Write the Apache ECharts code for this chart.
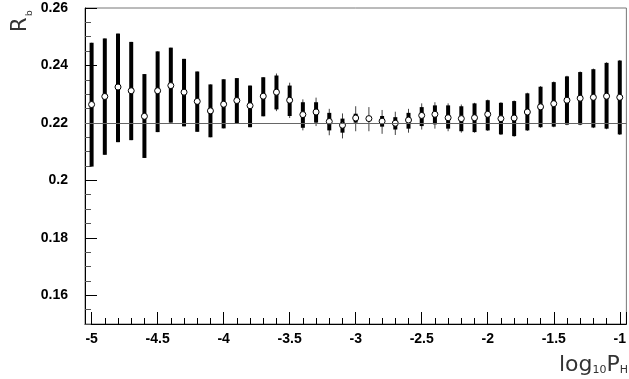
<!DOCTYPE html>
<html>
<head>
<meta charset="utf-8">
<script src="https://cdn.jsdelivr.net/npm/echarts@6/dist/echarts.min.js"></script>
<style>
  html, body { margin: 0; padding: 0; background: #fff; }
  #container { width: 629px; height: 379px; }
</style>
</head>
<body>
<div id="container"></div>
<script>
// log10 P_H bins
var xs = [-5.0, -4.9, -4.8, -4.7, -4.6, -4.5, -4.4, -4.3, -4.2, -4.1,
          -4.0, -3.9, -3.8, -3.7, -3.6, -3.5, -3.4, -3.3, -3.2, -3.1,
          -3.0, -2.9, -2.8, -2.7, -2.6, -2.5, -2.4, -2.3, -2.2, -2.1,
          -2.0, -1.9, -1.8, -1.7, -1.6, -1.5, -1.4, -1.3, -1.2, -1.1, -1.0];

// R_b central values
var rb = [0.2264, 0.2292, 0.2325, 0.2312, 0.2223, 0.2312, 0.2330, 0.2307, 0.2275, 0.2242,
          0.2265, 0.2278, 0.2260, 0.2293, 0.2307, 0.2279, 0.2229, 0.2238, 0.2205, 0.2192,
          0.2217, 0.2215, 0.2206, 0.2199, 0.2210, 0.2226, 0.2230, 0.2218, 0.2215, 0.2218,
          0.2230, 0.2215, 0.2217, 0.2238, 0.2256, 0.2267, 0.2279, 0.2286, 0.2289, 0.2293, 0.2289];

// thick bars (lower / upper edge)
var innerLo = [0.2048, 0.2089, 0.2133, 0.2140, 0.2078, 0.2168, 0.2201, 0.2188, 0.2169, 0.2150,
               0.2181, 0.2197, 0.2185, 0.2223, 0.2247, 0.2224, 0.2183, 0.2201, 0.2174, 0.2166,
               0.2201, 0.2215, 0.2187, 0.2177, 0.2180, 0.2189, 0.2195, 0.2180, 0.2171, 0.2168,
               0.2174, 0.2160, 0.2154, 0.2174, 0.2185, 0.2187, 0.2194, 0.2194, 0.2184, 0.2180, 0.2160];
var innerHi = [0.2479, 0.2494, 0.2511, 0.2482, 0.2370, 0.2449, 0.2462, 0.2423, 0.2379, 0.2334,
               0.2352, 0.2356, 0.2330, 0.2359, 0.2365, 0.2330, 0.2272, 0.2272, 0.2235, 0.2215,
               0.2232, 0.2215, 0.2224, 0.2220, 0.2235, 0.2255, 0.2261, 0.2261, 0.2258, 0.2268,
               0.2279, 0.2270, 0.2276, 0.2303, 0.2326, 0.2342, 0.2362, 0.2377, 0.2387, 0.2409, 0.2417];

// thin bars (lower / upper edge)
var outerLo = [0.2048, 0.2089, 0.2133, 0.2140, 0.2078, 0.2168, 0.2201, 0.2188, 0.2169, 0.2150,
               0.2181, 0.2197, 0.2185, 0.2223, 0.2241, 0.2217, 0.2174, 0.2189, 0.2157, 0.2146,
               0.2171, 0.2171, 0.2162, 0.2158, 0.2166, 0.2177, 0.2180, 0.2171, 0.2166, 0.2166,
               0.2172, 0.2158, 0.2152, 0.2172, 0.2183, 0.2185, 0.2192, 0.2192, 0.2182, 0.2178, 0.2158];
var outerHi = [0.2479, 0.2494, 0.2511, 0.2482, 0.2370, 0.2449, 0.2462, 0.2423, 0.2379, 0.2334,
               0.2352, 0.2356, 0.2330, 0.2359, 0.2372, 0.2340, 0.2282, 0.2288, 0.2249, 0.2233,
               0.2258, 0.2255, 0.2245, 0.2239, 0.2249, 0.2268, 0.2272, 0.2268, 0.2264, 0.2270,
               0.2281, 0.2272, 0.2278, 0.2305, 0.2328, 0.2344, 0.2364, 0.2379, 0.2389, 0.2411, 0.2419];

// reference line
var rbRef = 0.2212;

var dom = document.getElementById("container");
var myChart = echarts.init(dom);

function bars(lo, hi) {
    var out = [];
    for (var i = 0; i < xs.length; i++) {
        out.push([xs[i], lo[i], hi[i]]);
    }
    return out;
}

function barRenderer(width, color) {
    return function(params, api) {
        var a = api.coord([api.value(0), api.value(1)]);
        var b = api.coord([api.value(0), api.value(2)]);
        return {
            type: 'line',
            shape: { x1: a[0], y1: a[1], x2: b[0], y2: b[1] },
            style: { stroke: color, lineWidth: width }
        };
    };
}

var points = [];
for (var i = 0; i < xs.length; i++) {
    points.push([xs[i], rb[i]]);
}

var labelFont = {
    color: '#000',
    fontFamily: 'Liberation Sans',
    fontWeight: 'bold',
    fontSize: 14
};

option = {
    animation: false,
    backgroundColor: '#fff',
    grid: {
        left: 85,
        top: 8,
        width: 545,
        height: 316,
        show: true,
        borderColor: '#777',
        borderWidth: 1
    },
    xAxis: {
        type: 'value',
        min: -5.05,
        max: -0.95,
        splitNumber: 8,
        minInterval: 0.5,
        maxInterval: 0.5,
        axisLine: { onZero: false, lineStyle: { color: '#000', width: 1 } },
        axisTick: { inside: true, length: 12, lineStyle: { color: '#000' } },
        minorTick: { show: true, splitNumber: 5, length: 6, lineStyle: { color: '#000' } },
        splitLine: { show: false },
        axisLabel: Object.assign({ margin: 8, showMinLabel: false, showMaxLabel: false }, labelFont)
    },
    yAxis: {
        type: 'value',
        min: 0.15,
        max: 0.26,
        splitNumber: 5,
        minInterval: 0.02,
        maxInterval: 0.02,
        axisLine: { onZero: false, lineStyle: { color: '#000', width: 1 } },
        axisTick: { inside: true, length: 12, lineStyle: { color: '#000' } },
        minorTick: { show: true, splitNumber: 4, length: 6, lineStyle: { color: '#555' } },
        splitLine: { show: false },
        axisLabel: Object.assign({ margin: 17, showMinLabel: false }, labelFont)
    },
    graphic: [{
        type: 'text',
        x: 31,
        y: 32,
        rotation: Math.PI / 2,
        style: {
            text: 'R',
            fontFamily: 'DejaVu Sans',
            fontSize: 21,
            fill: '#333',
            align: 'left',
            verticalAlign: 'bottom'
        }
    }, {
        type: 'text',
        x: 34,
        y: 16,
        rotation: Math.PI / 2,
        style: {
            text: 'b',
            fontFamily: 'DejaVu Sans',
            fontSize: 9,
            fill: '#333',
            align: 'left',
            verticalAlign: 'bottom'
        }
    }, {
        type: 'text',
        right: 1,
        bottom: 3,
        style: {
            text: '{a|log}{s|10}{a|P}{s|H}',
            fill: '#333',
            rich: {
                a: { fontFamily: 'DejaVu Sans', fontSize: 22, fill: '#333', verticalAlign: 'bottom' },
                s: { fontFamily: 'DejaVu Sans', fontSize: 11, fill: '#333', verticalAlign: 'bottom' }
            }
        }
    }],
    series: [{
        name: 'outer',
        type: 'custom',
        renderItem: barRenderer(1, '#444'),
        encode: { x: 0, y: [1, 2] },
        data: bars(outerLo, outerHi),
        z: 2
    }, {
        name: 'inner',
        type: 'custom',
        renderItem: barRenderer(4, '#000'),
        encode: { x: 0, y: [1, 2] },
        data: bars(innerLo, innerHi),
        z: 3
    }, {
        name: 'Rb',
        type: 'scatter',
        symbol: 'circle',
        symbolSize: 6,
        itemStyle: { color: '#fff', borderColor: '#000', borderWidth: 1, opacity: 1 },
        data: points,
        z: 4,
        markLine: {
            silent: true,
            symbol: 'none',
            label: { show: false },
            lineStyle: { color: '#666', width: 1, type: 'solid' },
            data: [{ yAxis: rbRef }]
        }
    }]
};

if (option && typeof option === "object") {
    myChart.setOption(option, true);
}
</script>
</body>
</html>
